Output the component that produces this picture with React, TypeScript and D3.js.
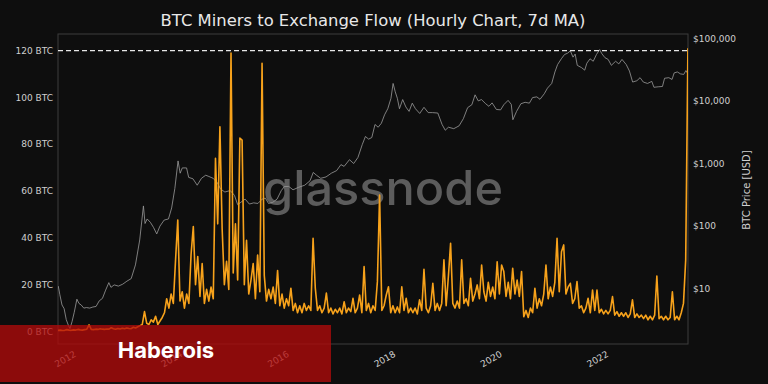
import React from 'react';
import * as d3 from 'd3';

// ---- data ----
const flowStartYear = 2011.665;
const flowStepYears = 1 / 24; // semi-monthly samples
const flowBTC: number[] = [
  // 2011.67 - 2012.63
  0.5, 0.6, 0.4, 0.5, 0.8, 0.6, 0.5, 0.7, 0.6, 0.9, 0.7, 0.6, 0.8, 1.0, 2.8, 0.9, 0.8, 1.0, 0.9, 1.2, 1.0, 0.9, 1.1, 1.0,
  // 2012.67 - 2013.63
  1.6, 1.2, 1.0, 1.3, 1.1, 1.4, 1.2, 1.5, 1.3, 1.2, 1.8, 1.5, 2.0, 2.5, 3.0, 8.5, 3.5, 3.0, 5.0, 4.0, 6.5, 3.0, 4.5, 6.0,
  // 2013.67 - 2014.63
  8, 14, 10, 16, 12, 30.6, 47.6, 13, 17, 10, 16, 12, 33, 44.8, 20, 32, 15, 29, 12, 18, 13, 19, 14, 74,
  // 2014.67 - 2015.63
  46, 87.5, 44, 20, 30, 18, 119, 25, 46, 22, 82.6, 81.8, 20, 39, 16, 22, 29, 14, 32.7, 17, 114.6, 24, 13, 18,
  // 2015.67 - 2016.63
  14, 19, 12, 26, 11, 16, 10, 14, 11, 18.5, 9, 12, 8, 11, 8, 12, 9, 11, 9, 39.8, 18.6, 9, 11, 8,
  // 2016.67 - 2017.63
  10, 16.4, 8, 10, 7.5, 9.5, 8, 10, 7.5, 12.7, 8, 10, 8.5, 14.2, 8, 10, 15.6, 8, 27.7, 9, 12, 8, 11, 9,
  // 2017.67 - 2018.63
  21.3, 58.3, 9, 11, 15.6, 19.1, 8, 11, 8, 10.5, 8, 19.1, 9, 14.2, 8, 10, 8, 10, 7.5, 13.5, 9, 26.6, 10, 8,
  // 2018.67 - 2019.63
  11, 20.6, 9, 12, 9, 12, 30.6, 11, 23.4, 37.7, 12, 10, 13, 10, 30.6, 12, 14, 11, 22.7, 13, 16, 19.9, 14, 28.4,
  // 2019.67 - 2020.63
  17, 13, 21, 15, 19, 14, 29.8, 16, 28.4, 25.6, 15, 21, 14, 27, 16, 22, 15, 25.6, 6.3, 9, 6, 10, 8, 18.5,
  // 2020.67 - 2021.63
  10, 14, 11, 16, 28.4, 14, 19, 15, 21, 39.8, 17, 34.1, 37, 16, 19, 20.6, 12, 14, 21.3, 10, 11, 8, 10, 14.2,
  // 2021.67 - 2022.63
  8, 17.7, 9, 17.7, 8, 9.5, 7.5, 9, 7.5, 9, 14.9, 7, 8.5, 6.5, 8, 6.5, 8, 6, 7.5, 13.5, 6, 7.5, 6, 7,
  // 2022.67 - 2023.5
  5.5, 7, 5, 6.5, 5, 7, 23.7, 5.5, 6.5, 5, 6.5, 5, 6, 17, 5, 6.5, 5, 8, 12, 30.6, 121,
];

const priceYears: number[] = [
  2011.67, 2011.70, 2011.74, 2011.78, 2011.82, 2011.86, 2011.89, 2011.93, 2011.97, 2012.02, 2012.06, 2012.10, 2012.15,
  2012.20, 2012.26, 2012.32, 2012.38, 2012.44, 2012.50, 2012.56, 2012.62, 2012.66, 2012.72, 2012.80, 2012.88, 2012.96,
  2013.04, 2013.12, 2013.20, 2013.27, 2013.30, 2013.34, 2013.40, 2013.46, 2013.52, 2013.58, 2013.66, 2013.74, 2013.80,
  2013.86, 2013.92, 2013.96, 2014.00, 2014.08, 2014.12, 2014.20, 2014.28, 2014.36, 2014.44, 2014.50, 2014.58, 2014.66,
  2014.72, 2014.80, 2014.90, 2014.98, 2015.04, 2015.10, 2015.18, 2015.26, 2015.34, 2015.42, 2015.50, 2015.56, 2015.62,
  2015.70, 2015.78, 2015.86, 2015.92, 2016.00, 2016.08, 2016.18, 2016.30, 2016.40, 2016.46, 2016.52, 2016.60, 2016.70,
  2016.80, 2016.90, 2016.98, 2017.04, 2017.14, 2017.22, 2017.30, 2017.38, 2017.44, 2017.50, 2017.56, 2017.62, 2017.68,
  2017.74, 2017.80, 2017.86, 2017.92, 2017.96, 2018.00, 2018.04, 2018.08, 2018.14, 2018.20, 2018.26, 2018.32, 2018.38,
  2018.46, 2018.54, 2018.62, 2018.70, 2018.80, 2018.88, 2018.94, 2019.00, 2019.10, 2019.20, 2019.28, 2019.36, 2019.44,
  2019.50, 2019.56, 2019.62, 2019.70, 2019.76, 2019.82, 2019.90, 2019.98, 2020.04, 2020.12, 2020.18, 2020.21, 2020.28,
  2020.36, 2020.44, 2020.52, 2020.58, 2020.66, 2020.72, 2020.80, 2020.86, 2020.94, 2021.00, 2021.05, 2021.12, 2021.18,
  2021.24, 2021.29, 2021.34, 2021.38, 2021.42, 2021.50, 2021.56, 2021.60, 2021.66, 2021.72, 2021.78, 2021.84, 2021.88,
  2021.94, 2022.00, 2022.06, 2022.14, 2022.20, 2022.26, 2022.34, 2022.40, 2022.46, 2022.54, 2022.60, 2022.66, 2022.74,
  2022.82, 2022.86, 2022.94, 2023.02, 2023.06, 2023.14, 2023.20, 2023.24, 2023.30, 2023.36, 2023.42, 2023.46, 2023.50,
];
const priceUSD: number[] = [
  11, 8, 5.5, 4.8, 3.2, 2.6, 2.3, 3.0, 4.2, 6.8, 5.8, 5.5, 4.9,
  5.0, 4.9, 5.1, 5.2, 6.4, 7.0, 9.5, 12.5, 10.5, 11.5, 11.0, 11.8, 13.2,
  14.5, 24, 60, 210, 110, 130, 115, 95, 75, 100, 125, 130, 195,
  400, 1100, 700, 850, 850, 600, 570, 450, 580, 650, 620, 580, 490,
  390, 350, 370, 310, 220, 240, 270, 225, 235, 230, 270, 280, 230,
  240, 270, 370, 430, 430, 380, 415, 450, 530, 720, 650, 580, 610,
  700, 770, 960, 900, 1150, 1000, 1250, 2000, 2700, 2450, 2600, 4200, 3800,
  4400, 6000, 7500, 11000, 19000, 14000, 11000, 7500, 10500, 8000, 6800, 9200, 7500,
  6300, 7900, 6500, 6500, 6400, 4200, 3400, 3800, 3600, 4000, 5200, 7800, 8700,
  12500, 10000, 10500, 9000, 8200, 9300, 7300, 7200, 8700, 10200, 8800, 5000, 6800,
  9000, 9500, 9200, 11300, 11600, 10600, 13000, 16000, 19000, 29000, 38000, 47000, 55000,
  58000, 63000, 50000, 56000, 37000, 34000, 31000, 40000, 47000, 43000, 55000, 66000, 57000,
  49000, 46000, 37000, 43000, 39000, 46000, 38000, 30000, 20000, 21000, 23500, 20000, 19000,
  20500, 16500, 16800, 17000, 23000, 23500, 22000, 28000, 29000, 27000, 26500, 30500, 27000,
];

const leftTicks = [0, 20, 40, 60, 80, 100, 120];
const rightTicks = [10, 100, 1000, 10000, 100000];
const yearTicks = [2012, 2014, 2016, 2018, 2020, 2022];
const athLevelBTC = 120;
const titleText = 'BTC Miners to Exchange Flow (Hourly Chart, 7d MA)';
const rightAxisTitle = 'BTC Price [USD]';
const watermark = 'glassnode';
const bannerText = 'Haberois';

export default function App() {
  const W = 768, H = 384;
  const L = 58, R = 688, T = 34, B = 344;
  const x = d3.scaleLinear().domain([2011.665, 2023.5]).range([L, R]);
  const yL = d3.scaleLinear().domain([-5.34, 127.1]).range([B, T]);
  const yR = d3.scaleLog().domain([1.308, 117150]).range([B, T]);

  const flowPts: [number, number][] = flowBTC.map((v, i) => [flowStartYear + i * flowStepYears, v]);
  const pricePts: [number, number][] = priceYears.map((t, i) => [t, priceUSD[i]]);

  const flowLine = d3.line<[number, number]>().x(d => x(d[0])).y(d => yL(d[1]))(flowPts) || '';
  const priceLine = d3.line<[number, number]>().x(d => x(d[0])).y(d => yR(d[1]))(pricePts) || '';
  const fmt = d3.format(',');
  const font = 'DejaVu Sans, sans-serif';

  return (
    <svg width={W} height={H} style={{ position: 'fixed', left: 0, top: 0, background: '#0e0e0e' }}>
      <rect x={0} y={0} width={W} height={H} fill="#0e0e0e" />
      <defs>
        <clipPath id="plot"><rect x={L} y={T} width={R - L} height={B - T} /></clipPath>
      </defs>
      <text x={373} y={26} textAnchor="middle" fill="#e8e8e8" fontFamily={font} fontSize={16.4}>{titleText}</text>
      <rect x={L} y={T} width={R - L} height={B - T} fill="none" stroke="#3c3c3c" strokeWidth={1} />
      <text x={383} y={205} textAnchor="middle" fill="#5c5c5c" fontFamily="Inter, sans-serif" fontWeight={500} fontSize={48} textLength={240} lengthAdjust="spacingAndGlyphs">{watermark}</text>
      <g clipPath="url(#plot)">
        <path d={priceLine} fill="none" stroke="#9a9a9a" strokeWidth={0.8} />
        <path d={flowLine} fill="none" stroke="#f7a21b" strokeWidth={1.6} strokeLinejoin="round" />
        <line x1={L} x2={R} y1={yL(athLevelBTC)} y2={yL(athLevelBTC)} stroke="#e6e6e6" strokeWidth={1.2} strokeDasharray="5,3" />
      </g>
      {leftTicks.map(v => (
        <text key={'l' + v} x={53} y={yL(v) + 3.2} textAnchor="end" fill="#cfcfcf" fontFamily={font} fontSize={9}>{v} BTC</text>
      ))}
      {rightTicks.map(v => (
        <text key={'r' + v} x={693} y={yR(v) + 3.2} textAnchor="start" fill="#cfcfcf" fontFamily={font} fontSize={9}>${fmt(v)}</text>
      ))}
      {yearTicks.map(yr => (
        <text key={'y' + yr} transform={`translate(${x(yr) + 1},${356}) rotate(-30)`} textAnchor="end" fill="#cfcfcf" fontFamily={font} fontSize={9}>{yr}</text>
      ))}
      <text transform={`translate(750,190) rotate(-90)`} textAnchor="middle" fill="#cfcfcf" fontFamily={font} fontSize={10}>{rightAxisTitle}</text>
      <rect x={0} y={325} width={331} height={57} fill="rgb(180,10,10)" opacity={0.76} />
      <text x={166} y={358} textAnchor="middle" fill="#ffffff" fontFamily="Inter, sans-serif" fontWeight={700} fontSize={22}>{bannerText}</text>
    </svg>
  );
}
